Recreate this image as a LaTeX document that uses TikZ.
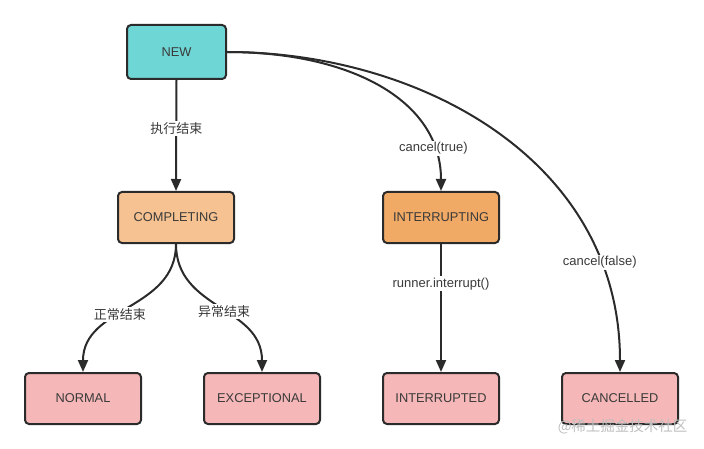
\documentclass[tikz,border=0pt]{standalone}
\usepackage{fontspec}
\setmainfont{Liberation Sans}
\newfontfamily\cjk{Noto Sans CJK SC}
\usetikzlibrary{arrows.meta}
\definecolor{cnew}{HTML}{6FD6D6}
\definecolor{ccomp}{HTML}{F6C291}
\definecolor{cint}{HTML}{F0AA66}
\definecolor{cend}{HTML}{F5B7B7}
\definecolor{cline}{HTML}{2B2B2B}
\definecolor{ctext}{HTML}{3A3A3A}
\tikzset{
  state/.style={draw=cline, line width=2pt, rounded corners=4pt, minimum width=116pt, minimum height=51pt, inner sep=0pt, text=ctext, font=\fontsize{12.8}{14}\selectfont},
  conn/.style={draw=cline, line width=2pt, -{Triangle[length=12pt,width=10pt]}},
  lab/.style={fill=white, inner sep=1.5pt, text=ctext, font=\fontsize{13}{15}\selectfont},
}
\begin{document}
\begin{tikzpicture}[x=1pt,y=-1pt]
\useasboundingbox (0,0) rectangle (704,449);
\node[state, fill=cnew, minimum width=99pt, minimum height=54pt] (new) at (176.5,52) {NEW};
\node[state, fill=ccomp] (comp) at (176,217.5) {COMPLETING};
\node[state, fill=cint] (intg) at (441,217.5) {INTERRUPTING};
\node[state, fill=cend] (norm) at (83,398.5) {NORMAL};
\node[state, fill=cend] (exc) at (262,398.5) {EXCEPTIONAL};
\node[state, fill=cend] (intd) at (441,398.5) {INTERRUPTED};
\node[state, fill=cend] (canc) at (620,398.5) {CANCELLED};

\draw[conn] (new.south) -- node[lab, pos=0.44] (l1) {\cjk 执行结束} (comp.north);
\draw[conn] (new.east) .. controls (350,52) and (441,100) .. node[lab, pos=0.83] (l2) {cancel(true)} (intg.north);
\draw[conn] (new.east) .. controls (420,52) and (620,160) .. node[lab, pos=0.81] (l3) {cancel(false)} (canc.north);
\draw[conn] (comp.south) .. controls (176,310) and (83,306) .. node[lab, pos=0.57] (l4) {\cjk 正常结束} (norm.north);
\draw[conn] (comp.south) .. controls (176,310) and (262,306) .. node[lab, pos=0.54] (l5) {\cjk 异常结束} (exc.north);
\draw[conn] (intg.south) -- node[lab, pos=0.31] (l6) {runner.interrupt()} (intd.north);

\node[text=black!25, font=\cjk\fontsize{14.5}{16}\selectfont, anchor=east] (wm) at (691,427) {@稀土掘金技术社区};
\end{tikzpicture}
\end{document}
